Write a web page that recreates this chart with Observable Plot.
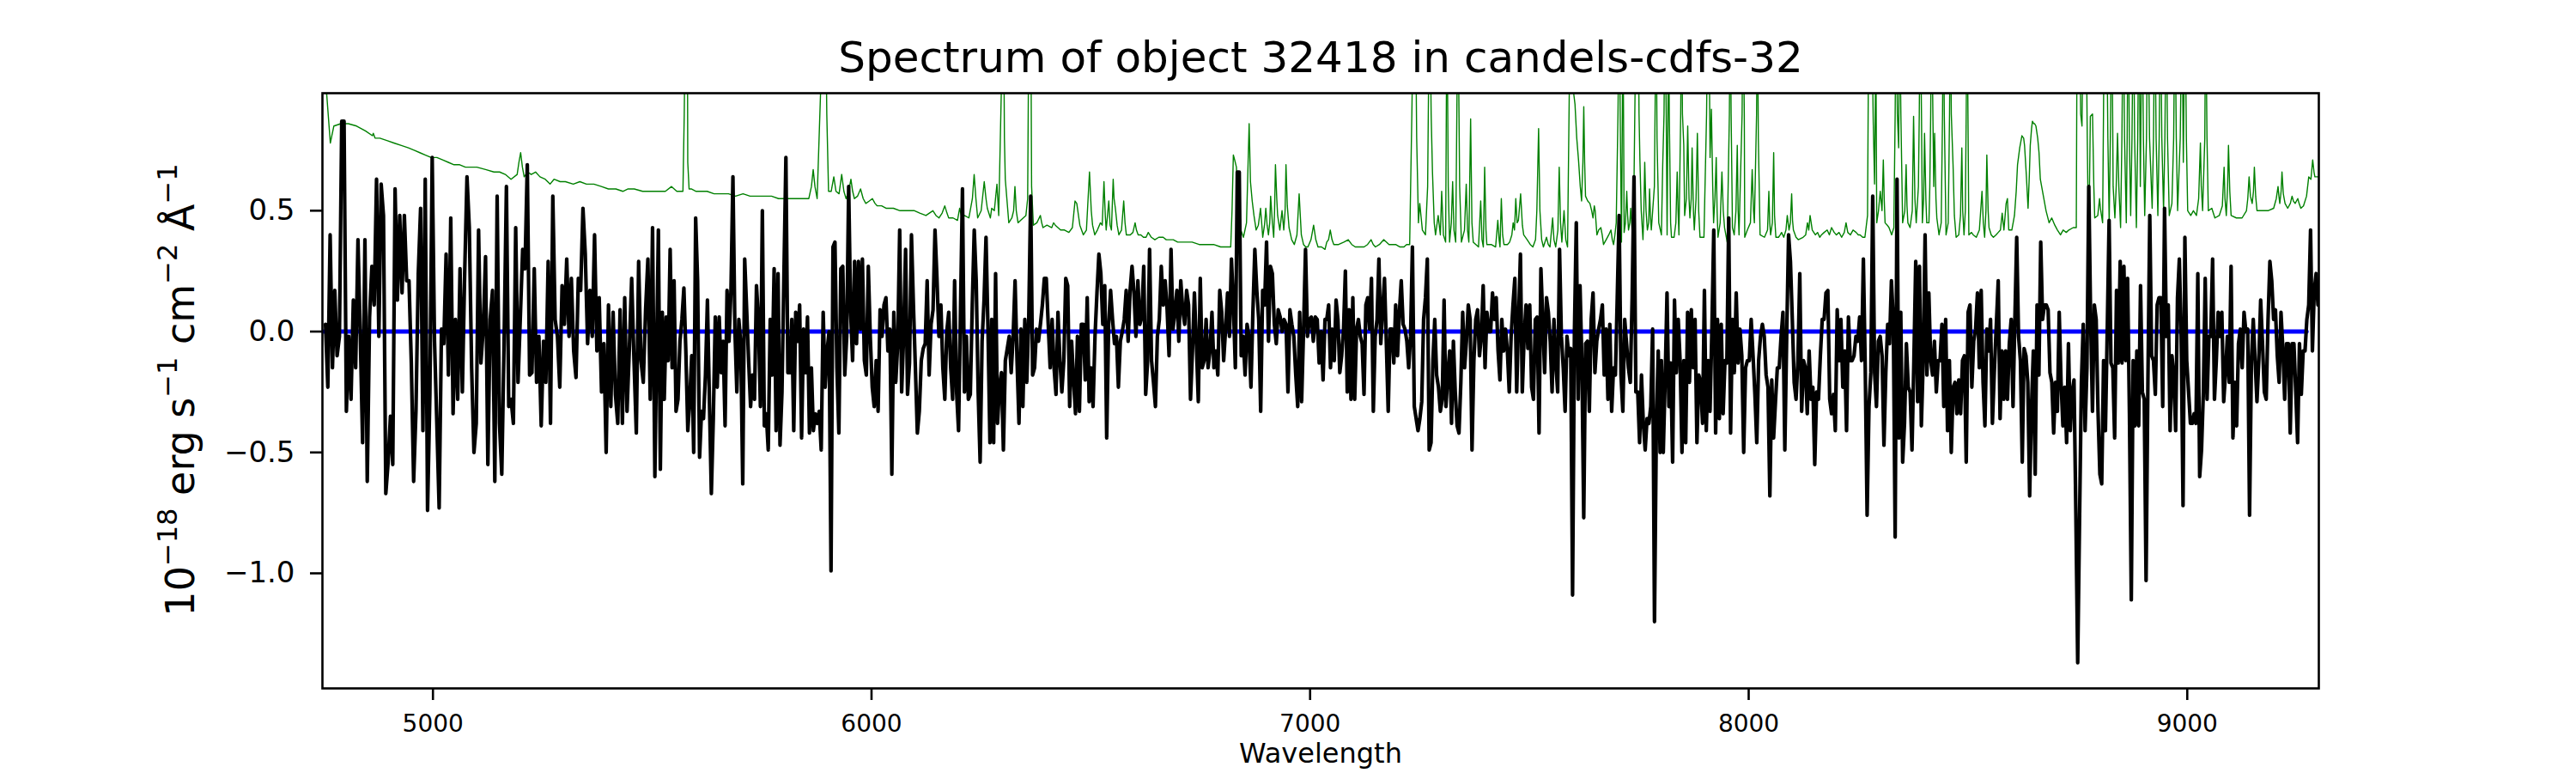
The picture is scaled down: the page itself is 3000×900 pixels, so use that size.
<!DOCTYPE html>
<html><head><meta charset="utf-8">
<script src="https://cdn.jsdelivr.net/npm/d3@7"></script>
<script src="https://cdn.jsdelivr.net/npm/@observablehq/plot@0.6"></script>
<style>html,body{margin:0;padding:0;background:#fff;}</style>
</head><body><div id="chart"></div>
<script>
const titleText = "Spectrum of object 32418 in candels-cdfs-32";
const xLabel = "Wavelength";
const xTicks = [5000, 6000, 7000, 8000, 9000];
const yTicks = [0.5, 0.0, -0.5, -1.0];

// observed flux, six consecutive wavelength segments (Å), values in 1e-18 erg/s/cm2/Å
const segStart = [4755, 5514, 6274, 7038, 7801, 8569];
const segEnd   = [5506, 6270, 7034, 7798, 8560, 9298];
const flux1 = [0.03,-0.23,0.40,-0.15,0.17,-0.10,-0.02,0.87,0.87,-0.33,-0.02,-0.28,0.13,-0.15,0.38,-0.02,-0.46,0.38,-0.62,0.06,0.27,0.11,0.63,-0.02,0.61,0.48,-0.67,-0.54,-0.35,-0.55,0.59,0.13,0.48,0.16,0.48,0.21,0.21,-0.13,-0.62,-0.33,0.24,0.51,-0.41,0.63,-0.74,-0.26,0.72,-0.04,-0.38,-0.73,0.01,-0.05,0.32,-0.18,0.47,-0.34,0.05,-0.28,0.26,-0.25,0.24,0.64,0.43,-0.15,-0.50,-0.38,0.42,-0.13,0.01,0.31,-0.55,0.05,0.17,-0.62,0.56,-0.38,-0.59,-0.04,0.60,-0.31,-0.28,-0.38,0.43,-0.21,0.06,0.34,0.26,0.69,-0.18,-0.17,0.26,-0.21,-0.02,-0.39,-0.04,-0.21,0.29,-0.38,0.56,0.05,-0.02,-0.23,0.19,0.03,0.30,-0.02,0.22,-0.08,-0.19,0.22,0.17,0.51,0.32,-0.05,0.17,-0.02,0.40,-0.08,0.14,-0.25,-0.05,-0.50,0.11,-0.31,0.08,-0.26,-0.38,0.09,-0.38,0.14,-0.33,-0.07,0.22,-0.12,-0.42,0.29,-0.12,-0.21,0.09,0.30,-0.28,0.43,-0.60];
const flux2 = [0.42,-0.57,0.08,-0.28,0.06,-0.12,0.34,-0.15,0.21,-0.33,-0.28,-0.04,0.05,0.18,-0.08,-0.41,-0.28,-0.10,-0.50,0.47,0.21,-0.52,-0.33,-0.36,-0.18,0.13,-0.28,-0.67,-0.36,0.06,-0.23,0.06,-0.17,-0.04,-0.39,0.17,-0.04,0.17,0.64,0.01,-0.25,0.05,-0.05,-0.63,0.30,0.09,-0.12,-0.31,-0.18,-0.28,0.19,0.05,-0.31,0.50,-0.39,-0.34,-0.49,0.05,-0.18,0.26,-0.41,0.24,-0.47,-0.25,0.24,0.72,-0.17,-0.17,0.05,-0.41,0.08,-0.04,0.11,-0.44,0.01,-0.17,0.06,-0.42,-0.15,-0.41,-0.34,-0.38,-0.33,-0.49,0.08,-0.23,-0.08,0.00,-0.99,0.35,0.37,-0.15,-0.42,0.26,0.27,-0.18,-0.02,0.60,0.08,-0.12,0.29,-0.05,0.29,0.01,0.30,-0.12,-0.18,0.27,-0.02,-0.23,-0.31,-0.12,-0.33,0.09,-0.02,0.11,0.14,-0.08,0.01,-0.59,0.08,-0.21,-0.05,0.42,-0.25,-0.02,0.34,-0.26,-0.13,0.40,0.11,-0.15,-0.42,-0.33,-0.12,-0.07,-0.05,0.21,-0.18,0.03,0.09,0.42,0.22,-0.02,0.11,-0.15,-0.28,0.00,0.08,-0.15,-0.28,0.21,-0.25,-0.41,0.09,0.59,-0.25,-0.02,-0.28,-0.26,0.11,0.42,0.21,-0.25,-0.54,-0.04,0.13,0.39,0.01,-0.46];
const flux3 = [0.05,-0.46,0.24,-0.38,-0.23,-0.17,-0.49,-0.12,-0.07,-0.02,-0.17,-0.02,0.21,-0.12,-0.38,0.01,-0.31,0.05,-0.21,0.05,0.56,-0.18,-0.15,0.01,-0.04,0.03,0.11,0.22,0.22,0.03,-0.15,0.05,-0.15,-0.26,0.08,-0.12,-0.25,-0.12,0.22,0.19,-0.31,-0.04,-0.20,-0.34,-0.02,-0.33,0.03,0.03,-0.20,0.14,-0.29,-0.15,-0.31,-0.02,0.16,0.32,0.24,0.03,0.19,-0.44,0.03,0.17,0.05,-0.05,-0.02,-0.23,-0.04,0.00,0.05,0.17,-0.04,0.17,0.27,0.16,-0.02,0.21,0.03,0.06,0.27,-0.26,-0.12,0.34,-0.12,-0.21,-0.31,-0.02,0.05,0.27,0.11,0.21,0.09,-0.10,0.34,0.01,0.08,0.17,-0.04,0.21,0.09,0.03,0.17,0.11,-0.28,-0.08,0.16,-0.05,-0.29,0.22,-0.15,-0.12,0.05,-0.15,-0.08,0.08,-0.15,-0.08,-0.18,0.17,0.08,-0.12,0.01,0.16,-0.02,0.30,0.11,-0.15,0.66,0.66,-0.10,-0.02,-0.18,0.03,-0.02,-0.23,0.08,0.34,0.17,0.05,-0.33,0.17,0.11,0.37,-0.04,0.27,0.24,0.03,-0.05,0.09,0.06,0.00,0.05,0.03,-0.25,0.09,0.03,-0.02,-0.18,-0.31,0.08,-0.29,0.01,0.34,-0.02,0.05,0.06,-0.04,0.06,0.05,-0.13,0.00,-0.20,0.05];
const flux4 = [0.05,0.11,-0.15,0.01,-0.12,0.13,0.05,-0.17,-0.10,0.01,0.25,-0.25,0.09,-0.28,0.14,-0.28,0.01,0.05,-0.02,-0.05,-0.26,0.11,0.14,0.01,0.22,-0.33,-0.02,0.05,0.30,-0.05,0.09,0.22,-0.05,-0.33,0.01,0.01,-0.13,0.11,-0.10,0.08,0.21,0.03,0.01,-0.04,-0.15,-0.02,0.35,-0.31,-0.36,-0.41,-0.36,-0.29,0.05,0.14,0.30,-0.49,-0.46,-0.12,0.05,-0.18,-0.23,-0.33,-0.28,0.13,-0.31,-0.18,-0.08,-0.38,-0.04,-0.25,-0.39,-0.42,-0.21,0.08,-0.15,-0.04,0.11,0.05,-0.49,-0.12,0.05,0.09,-0.10,-0.02,0.19,-0.15,0.08,0.00,0.00,0.16,0.05,0.14,-0.08,-0.20,0.05,-0.08,0.01,-0.08,-0.25,-0.02,0.11,0.22,-0.25,0.05,0.32,-0.25,-0.02,0.11,-0.07,0.11,-0.23,-0.28,0.05,0.06,-0.42,0.26,0.05,-0.17,0.14,0.08,-0.04,-0.25,0.05,-0.13,-0.25,0.34,-0.02,-0.15,-0.33,-0.02,-0.10,-0.07,-1.09,0.00,0.45,-0.28,0.19,-0.12,-0.77,-0.05,-0.04,-0.33,0.05,0.16,-0.17,-0.04,0.01,0.05,0.11,-0.18,0.01,-0.28,0.03,-0.33,-0.15,-0.18,0.14,0.48,-0.18,-0.33,0.05,-0.05,-0.15,-0.21,0.14,0.64,-0.25,-0.25,-0.46,-0.18,-0.38,-0.49,-0.36,-0.38,-0.31,0.01,-1.20,-0.39,-0.08,-0.50];
const flux5 = [-0.12,-0.50,-0.20,0.16,-0.31,-0.13,-0.54,0.13,-0.17,0.05,-0.12,-0.50,-0.12,-0.46,0.08,-0.21,0.09,-0.15,0.05,-0.46,-0.18,-0.21,-0.38,0.17,-0.41,-0.12,-0.33,0.01,0.42,-0.42,0.05,-0.36,0.03,-0.34,-0.12,-0.13,0.47,-0.42,0.05,-0.17,0.16,-0.13,0.01,-0.10,-0.50,-0.15,-0.12,-0.12,0.05,-0.10,-0.26,-0.46,-0.12,-0.02,0.03,-0.02,-0.18,-0.23,-0.68,-0.20,-0.44,-0.29,-0.15,-0.15,-0.02,0.08,-0.49,-0.02,0.40,0.29,0.05,-0.21,-0.28,-0.12,0.24,-0.33,-0.12,-0.15,-0.34,-0.08,-0.28,-0.23,-0.55,-0.25,-0.28,-0.10,0.05,0.05,0.16,0.17,-0.28,-0.34,-0.26,-0.41,0.09,-0.12,0.05,-0.23,-0.08,-0.41,0.06,-0.12,-0.12,-0.10,-0.02,-0.04,0.06,-0.12,0.30,-0.15,-0.76,-0.31,-0.17,0.56,-0.17,-0.31,-0.04,-0.02,-0.10,-0.47,-0.17,0.03,-0.05,0.21,0.05,-0.85,0.63,-0.44,0.08,-0.54,-0.38,-0.05,-0.23,-0.25,-0.49,-0.12,0.29,-0.29,0.27,-0.39,-0.12,0.40,-0.18,0.16,-0.12,-0.18,-0.04,-0.25,-0.12,-0.12,0.03,-0.31,0.05,-0.41,-0.12,-0.50,-0.23,-0.21,-0.34,-0.20,-0.34,-0.12,-0.10,-0.54,0.08,0.11,-0.23,-0.04,0.01,0.16,-0.15,0.17,-0.21,-0.39,0.01,-0.08,0.05,-0.38,-0.17];
const flux6 = [0.21,-0.36,-0.08,-0.28,-0.08,-0.28,-0.05,0.05,-0.31,0.05,0.39,-0.02,-0.12,-0.54,-0.07,-0.10,-0.21,-0.68,-0.31,-0.08,-0.59,0.11,-0.18,0.37,0.05,0.11,0.11,0.09,-0.17,-0.21,-0.42,-0.21,-0.33,0.08,-0.21,-0.39,-0.23,-0.46,-0.05,-0.41,-0.25,-0.20,-0.75,-1.37,-0.78,-0.21,0.03,-0.41,-0.15,0.60,0.05,-0.33,0.11,0.05,-0.33,-0.59,-0.63,-0.12,-0.41,0.01,0.46,-0.13,-0.15,-0.44,0.17,-0.13,0.29,-0.13,0.27,-0.12,0.22,-0.34,-1.11,-0.12,-0.39,-0.08,-0.39,0.19,-0.25,-0.28,-1.03,-0.20,0.48,-0.10,-0.12,-0.26,0.11,0.14,0.14,-0.31,0.51,-0.02,0.11,-0.41,-0.10,-0.18,-0.41,0.14,0.30,-0.02,-0.72,0.39,-0.12,-0.25,-0.38,-0.38,-0.34,-0.38,0.24,-0.60,-0.49,-0.25,0.22,-0.28,-0.02,-0.02,0.30,-0.28,-0.12,0.08,-0.02,0.08,-0.29,-0.17,-0.02,-0.21,0.27,-0.44,-0.21,-0.39,-0.05,0.01,-0.15,0.08,0.00,0.01,-0.76,-0.12,0.05,-0.12,-0.29,-0.12,0.13,-0.05,-0.25,-0.28,0.05,0.29,0.21,0.05,0.09,-0.10,-0.21,0.08,-0.07,-0.28,-0.05,-0.05,-0.42,-0.05,-0.05,-0.25,-0.46,-0.05,-0.26,-0.08,-0.08,0.05,0.11,0.42,-0.08,0.17,0.24,0.11];

// model (blue) — zero across the spectrum
const modelWave = [4751, 9272];
const modelFlux = [0, 0];

// noise / sky spectrum (green): [wavelength, value]
const errSpectrum = [
[4750,1.3],[4757,1.0],[4766,0.78],[4774,0.85],[4790,0.86],[4807,0.86],[4826,0.85],[4846,0.83],[4862,0.81],[4864,0.82],[4868,0.80],[4879,0.80],[4895,0.79],[4911,0.78],[4928,0.77],[4944,0.76],[4957,0.75],[4970,0.74],[4983,0.73],[4996,0.72],[5009,0.72],[5022,0.71],[5035,0.70],[5048,0.69],[5061,0.69],[5074,0.68],[5087,0.68],[5100,0.68],[5120,0.67],[5139,0.66],[5152,0.66],[5165,0.65],[5178,0.63],[5192,0.65],[5196,0.70],[5200,0.74],[5204,0.68],[5208,0.64],[5216,0.66],[5224,0.65],[5234,0.66],[5244,0.64],[5256,0.63],[5267,0.61],[5276,0.63],[5290,0.62],[5302,0.62],[5320,0.61],[5335,0.62],[5350,0.61],[5367,0.61],[5384,0.60],[5400,0.59],[5417,0.59],[5433,0.58],[5445,0.59],[5459,0.59],[5478,0.58],[5498,0.58],
[5511,0.58],[5530,0.58],[5544,0.60],[5556,0.58],[5570,0.58],[5573,0.9],[5576,1.4],[5580,1.4],[5581,0.7],[5584,0.59],[5589,0.59],[5600,0.58],[5609,0.58],[5625,0.58],[5641,0.57],[5658,0.57],[5674,0.57],[5690,0.56],[5707,0.57],[5723,0.56],[5739,0.56],[5756,0.56],[5772,0.56],[5788,0.55],[5805,0.55],[5820,0.55],[5837,0.55],[5857,0.55],[5863,0.60],[5867,0.67],[5871,0.60],[5876,0.55],[5884,1.0],[5887,1.4],[5895,1.4],[5898,0.9],[5902,0.58],[5908,0.58],[5914,0.64],[5919,0.58],[5926,0.57],[5932,0.65],[5937,0.58],[5942,0.55],[5948,0.58],[5953,0.63],[5957,0.58],[5961,0.55],[5968,0.56],[5975,0.59],[5981,0.55],[5987,0.53],[5995,0.54],[6002,0.55],[6008,0.53],[6013,0.52],[6023,0.52],[6033,0.51],[6050,0.51],[6065,0.50],[6080,0.50],[6098,0.50],[6110,0.49],[6124,0.48],[6132,0.49],[6140,0.50],[6147,0.48],[6154,0.47],[6161,0.49],[6167,0.52],[6172,0.49],[6176,0.47],[6186,0.47],[6196,0.46],[6201,0.51],[6206,0.47],[6212,0.48],[6222,0.47],[6230,0.55],[6234,0.65],[6238,0.55],[6242,0.47],[6250,0.50],[6257,0.62],[6261,0.55],[6264,0.51],[6271,0.47],
[6274,0.51],[6280,0.50],[6286,0.61],[6290,0.48],[6296,1.0],[6297,1.4],[6301,1.4],[6303,0.8],[6305,0.63],[6313,0.45],[6320,0.47],[6324,0.50],[6327,0.60],[6330,0.50],[6334,0.45],[6340,0.46],[6346,0.47],[6352,0.48],[6356,0.55],[6359,1.4],[6363,1.4],[6365,0.6],[6369,0.44],[6377,0.45],[6385,0.48],[6388,0.45],[6391,0.43],[6400,0.44],[6411,0.43],[6415,0.45],[6419,0.44],[6425,0.43],[6431,0.42],[6440,0.42],[6450,0.41],[6458,0.43],[6464,0.54],[6468,0.53],[6475,0.44],[6483,0.40],[6490,0.42],[6497,0.66],[6501,0.50],[6504,0.44],[6509,0.40],[6515,0.42],[6522,0.45],[6526,0.44],[6530,0.62],[6533,0.48],[6535,0.42],[6541,0.54],[6544,0.44],[6547,0.42],[6551,0.63],[6553,0.55],[6556,0.51],[6560,0.44],[6564,0.40],[6570,0.42],[6575,0.54],[6578,0.45],[6581,0.40],[6586,0.40],[6590,0.40],[6596,0.41],[6601,0.45],[6604,0.42],[6608,0.40],[6614,0.40],[6620,0.39],[6626,0.39],[6631,0.41],[6638,0.39],[6646,0.38],[6655,0.39],[6665,0.39],[6672,0.38],[6678,0.38],[6688,0.38],[6698,0.37],[6715,0.37],[6731,0.37],[6747,0.36],[6763,0.36],[6780,0.36],[6796,0.35],[6810,0.35],[6819,0.35],[6822,0.50],[6825,0.73],[6828,0.71],[6832,0.68],[6836,0.48],[6842,0.42],[6848,0.39],[6855,0.45],[6861,0.86],[6864,0.62],[6868,0.54],[6872,0.48],[6877,0.42],[6882,0.44],[6887,0.51],[6890,0.44],[6892,0.39],[6896,0.44],[6899,0.51],[6902,0.44],[6905,0.40],[6908,0.45],[6910,0.56],[6914,0.45],[6917,0.39],[6919,0.50],[6921,0.69],[6924,0.55],[6926,0.48],[6931,0.42],[6936,0.50],[6940,0.42],[6943,0.50],[6945,0.69],[6948,0.52],[6952,0.43],[6958,0.38],[6964,0.36],[6970,0.40],[6975,0.57],[6980,0.40],[6985,0.36],[6990,0.35],[6995,0.35],[7002,0.38],[7008,0.44],[7013,0.38],[7018,0.35],[7026,0.35],[7034,0.34],
[7038,0.37],[7042,0.38],[7046,0.42],[7050,0.38],[7054,0.36],[7065,0.36],[7077,0.37],[7087,0.38],[7095,0.36],[7103,0.35],[7113,0.35],[7123,0.35],[7131,0.36],[7139,0.38],[7144,0.36],[7149,0.35],[7158,0.36],[7168,0.38],[7180,0.36],[7195,0.36],[7205,0.35],[7214,0.35],[7220,0.36],[7227,0.36],[7232,0.9],[7236,1.4],[7240,1.4],[7243,0.8],[7247,0.45],[7250,0.53],[7256,0.42],[7263,0.40],[7268,0.6],[7270,1.0],[7273,1.4],[7276,0.9],[7279,0.66],[7283,0.45],[7286,0.40],[7292,0.48],[7297,0.40],[7300,0.58],[7304,0.40],[7309,0.37],[7312,1.4],[7315,0.6],[7318,0.37],[7322,0.45],[7325,0.62],[7328,0.42],[7332,0.37],[7337,1.4],[7341,0.6],[7345,0.37],[7352,0.42],[7356,0.61],[7359,0.42],[7362,0.37],[7366,0.88],[7369,0.45],[7372,0.37],[7378,0.36],[7384,0.35],[7389,0.54],[7392,0.38],[7395,0.35],[7398,0.68],[7401,0.42],[7403,0.36],[7413,0.36],[7423,0.35],[7428,0.46],[7431,0.38],[7433,0.35],[7436,0.55],[7439,0.40],[7442,0.36],[7450,0.36],[7455,0.37],[7460,0.40],[7463,0.45],[7466,0.42],[7469,0.55],[7472,0.45],[7475,0.46],[7480,0.57],[7484,0.44],[7487,0.40],[7495,0.38],[7502,0.36],[7508,0.35],[7514,0.38],[7517,0.50],[7521,0.84],[7524,0.50],[7528,0.38],[7532,0.35],[7539,0.39],[7543,0.36],[7547,0.35],[7553,0.47],[7556,0.38],[7560,0.35],[7565,0.42],[7568,0.68],[7571,0.45],[7574,0.37],[7579,0.50],[7583,0.38],[7587,0.35],[7591,1.0],[7594,1.4],[7598,1.4],[7600,1.0],[7604,0.94],[7608,0.80],[7612,0.71],[7616,0.60],[7619,0.54],[7622,0.70],[7624,0.93],[7626,0.70],[7628,0.56],[7633,0.54],[7638,0.53],[7642,0.50],[7645,0.47],[7648,0.52],[7650,0.50],[7654,0.40],[7658,0.42],[7663,0.43],[7666,0.40],[7669,0.36],[7675,0.38],[7681,0.40],[7686,0.42],[7689,0.38],[7692,0.36],[7695,0.40],[7698,0.45],[7702,0.9],[7705,1.4],[7707,0.9],[7710,0.37],[7712,0.9],[7713,1.4],[7715,0.8],[7716,0.41],[7719,0.45],[7722,0.58],[7724,0.48],[7726,0.42],[7729,0.45],[7731,0.51],[7734,0.42],[7737,0.38],[7741,1.0],[7744,1.4],[7748,1.4],[7750,0.9],[7752,0.71],[7755,0.50],[7759,0.38],[7761,0.50],[7763,0.70],[7766,0.50],[7769,0.42],[7772,0.45],[7774,0.59],[7776,0.48],[7778,0.42],[7785,0.6],[7787,1.0],[7789,1.4],[7791,0.8],[7795,0.45],
[7801,0.40],[7804,0.69],[7807,0.9],[7809,1.4],[7812,0.9],[7814,0.40],[7816,0.9],[7817,1.4],[7819,0.9],[7822,0.45],[7824,0.39],[7830,0.39],[7834,0.45],[7837,0.66],[7839,0.50],[7841,0.40],[7845,0.9],[7847,1.4],[7849,0.9],[7852,0.77],[7854,0.48],[7858,0.55],[7861,0.85],[7864,0.55],[7866,0.47],[7869,0.55],[7871,0.76],[7874,0.50],[7876,0.42],[7880,0.55],[7883,0.82],[7886,0.50],[7889,0.39],[7898,0.39],[7904,0.9],[7907,1.4],[7909,1.4],[7912,0.72],[7915,0.92],[7918,0.60],[7920,0.45],[7923,0.55],[7926,0.72],[7928,0.50],[7930,0.39],[7935,0.45],[7939,0.66],[7942,0.50],[7945,0.43],[7951,0.37],[7956,0.9],[7958,1.4],[7960,0.9],[7963,0.43],[7967,0.40],[7971,0.50],[7974,0.77],[7976,0.50],[7978,0.40],[7985,0.9],[7987,1.4],[7990,0.9],[7991,0.39],[7997,0.42],[8004,0.45],[8008,0.67],[8011,0.50],[8013,0.45],[8018,0.9],[8020,1.4],[8022,0.8],[8026,0.40],[8036,0.39],[8043,0.42],[8046,0.58],[8048,0.45],[8050,0.40],[8054,0.45],[8057,0.74],[8059,0.48],[8062,0.39],[8068,0.39],[8072,0.40],[8075,0.41],[8080,0.39],[8085,0.42],[8088,0.48],[8092,0.42],[8095,0.45],[8098,0.57],[8100,0.46],[8102,0.42],[8108,0.39],[8113,0.38],[8124,0.39],[8130,0.40],[8134,0.45],[8137,0.42],[8140,0.48],[8145,0.42],[8152,0.40],[8157,0.41],[8162,0.39],[8166,0.40],[8172,0.41],[8179,0.42],[8184,0.40],[8189,0.43],[8195,0.41],[8200,0.40],[8206,0.41],[8212,0.39],[8218,0.41],[8222,0.45],[8226,0.41],[8232,0.40],[8238,0.42],[8245,0.41],[8250,0.40],[8254,0.40],[8260,0.39],[8265,0.39],[8271,0.48],[8274,1.4],[8280,1.4],[8284,0.87],[8287,0.61],[8290,1.2],[8292,0.45],[8296,0.50],[8300,0.58],[8304,0.50],[8307,0.71],[8309,0.55],[8311,0.45],[8316,0.44],[8320,0.43],[8326,0.40],[8331,0.43],[8334,0.9],[8336,1.4],[8339,0.9],[8342,0.76],[8344,1.4],[8347,0.9],[8351,0.45],[8356,0.50],[8359,0.69],[8361,0.52],[8363,0.45],[8368,0.43],[8373,0.50],[8376,0.89],[8379,0.55],[8382,0.45],[8387,0.6],[8389,0.9],[8391,1.4],[8394,0.9],[8396,0.45],[8399,0.55],[8401,0.82],[8404,0.55],[8406,0.45],[8411,0.45],[8413,0.6],[8415,0.9],[8417,1.4],[8420,0.9],[8422,0.6],[8424,0.82],[8427,0.55],[8429,0.47],[8434,0.40],[8439,0.45],[8442,0.9],[8444,1.4],[8446,0.9],[8450,0.40],[8455,0.45],[8458,0.9],[8460,1.4],[8462,0.9],[8466,0.69],[8469,0.48],[8473,0.39],[8479,0.40],[8483,0.48],[8486,0.76],[8488,0.50],[8491,0.40],[8494,0.5],[8496,0.9],[8498,1.4],[8500,0.9],[8502,0.40],[8508,0.41],[8512,0.40],[8519,0.39],[8526,0.42],[8532,0.58],[8535,0.45],[8538,0.39],[8541,0.50],[8543,0.73],[8546,0.50],[8548,0.43],[8553,0.40],[8558,0.39],
[8564,0.40],[8569,0.41],[8574,0.42],[8578,0.49],[8582,0.42],[8587,0.53],[8590,0.55],[8593,0.42],[8600,0.42],[8606,0.48],[8610,0.58],[8613,0.69],[8618,0.76],[8623,0.81],[8627,0.80],[8629,0.77],[8633,0.65],[8637,0.51],[8640,0.65],[8642,0.77],[8645,0.84],[8647,0.87],[8650,0.86],[8652,0.86],[8655,0.85],[8659,0.80],[8662,0.74],[8665,0.63],[8668,0.60],[8672,0.56],[8678,0.50],[8685,0.45],[8691,0.47],[8698,0.44],[8704,0.42],[8711,0.40],[8717,0.42],[8724,0.41],[8730,0.42],[8740,0.43],[8747,0.43],[8749,1.4],[8754,1.4],[8757,0.9],[8760,0.85],[8763,1.4],[8769,1.4],[8772,0.8],[8774,0.50],[8776,0.43],[8779,0.89],[8784,0.90],[8787,0.6],[8789,0.47],[8796,0.48],[8800,0.55],[8802,0.51],[8807,0.45],[8809,0.9],[8811,1.4],[8816,1.4],[8819,0.8],[8822,0.45],[8825,0.85],[8828,1.4],[8831,0.6],[8835,0.47],[8838,0.6],[8841,0.82],[8844,0.6],[8848,0.43],[8851,0.8],[8854,1.4],[8857,0.8],[8861,0.45],[8863,0.8],[8865,1.4],[8868,0.8],[8871,0.48],[8874,0.8],[8877,1.4],[8880,0.8],[8884,0.43],[8887,0.8],[8890,1.4],[8893,0.6],[8897,1.4],[8900,0.8],[8903,0.48],[8907,0.8],[8910,1.4],[8914,0.8],[8920,0.51],[8923,0.8],[8926,1.4],[8929,0.8],[8933,0.48],[8936,0.8],[8939,1.4],[8942,0.8],[8946,0.50],[8949,0.8],[8952,1.4],[8955,0.8],[8959,0.48],[8965,0.53],[8969,0.8],[8972,1.4],[8975,0.8],[8978,0.50],[8984,0.8],[8988,1.4],[8991,0.7],[8995,1.4],[8998,0.8],[9001,0.50],[9008,0.48],[9014,0.50],[9021,0.48],[9026,0.55],[9030,0.78],[9032,0.60],[9035,0.50],[9040,0.8],[9042,1.4],[9045,0.8],[9048,0.50],[9056,0.51],[9063,0.47],[9073,0.48],[9080,0.52],[9084,0.68],[9086,0.55],[9089,0.48],[9092,0.6],[9094,0.77],[9097,0.58],[9100,0.48],[9112,0.47],[9125,0.47],[9135,0.50],[9138,0.55],[9141,0.64],[9144,0.56],[9148,0.53],[9151,0.58],[9153,0.68],[9156,0.56],[9159,0.50],[9171,0.50],[9184,0.50],[9197,0.51],[9203,0.55],[9207,0.60],[9209,0.56],[9211,0.53],[9214,0.58],[9216,0.66],[9219,0.57],[9223,0.53],[9229,0.51],[9235,0.53],[9239,0.56],[9242,0.54],[9246,0.53],[9252,0.55],[9255,0.53],[9259,0.51],[9265,0.52],[9272,0.56],[9277,0.64],[9282,0.63],[9286,0.71],[9289,0.66],[9291,0.64],[9298,0.64]
];

const fluxSegments = [flux1, flux2, flux3, flux4, flux5, flux6];
const fluxData = fluxSegments.flatMap((vals, s) =>
  vals.map((v, i) => ({wave: segStart[s] + i * (segEnd[s] - segStart[s]) / (vals.length - 1), flux: v})));
const modelData = modelWave.map((w, i) => ({wave: w, flux: modelFlux[i]}));
const errData = errSpectrum.map(([w, v]) => ({wave: w, flux: v}));

const font = "DejaVu Sans";
const chart = Plot.plot({
  width: 3000, height: 900,
  marginLeft: 375, marginRight: 300, marginTop: 108, marginBottom: 99,
  style: {fontFamily: font, background: "white", color: "black"},
  x: {domain: [4748, 9300]},
  y: {domain: [-1.476, 0.986]},
  marks: [
    Plot.line(errData, {x: "wave", y: "flux", stroke: "#008000", strokeWidth: 1.4, clip: true}),
    Plot.line(modelData, {x: "wave", y: "flux", stroke: "#0000ff", strokeWidth: 5}),
    Plot.line(fluxData, {x: "wave", y: "flux", stroke: "#000000", strokeWidth: 4.2, strokeLinejoin: "round", clip: true}),
    Plot.frame({stroke: "black", strokeWidth: 2.6}),
    Plot.axisX({ticks: xTicks, tickFormat: "d", tickSize: 14, tickPadding: 17, fontSize: 28, strokeWidth: 2.6, label: null}),
    Plot.axisY({ticks: yTicks, tickFormat: ".1f", tickSize: 14, tickPadding: 18, fontSize: 34, strokeWidth: 2.6, label: null}),
    Plot.text([titleText], {text: d => d, frameAnchor: "top", lineAnchor: "bottom", dy: -25, fontSize: 50, fill: "black"}),
    Plot.text([xLabel], {text: d => d, frameAnchor: "bottom", lineAnchor: "bottom", dy: 86, fontSize: 32, fill: "black"})
  ]
});
document.getElementById("chart").appendChild(chart);

// y-axis label with superscripts
const svg = d3.select(chart);
const yl = svg.append("text")
  .attr("transform", "translate(226,454) rotate(-90)")
  .attr("text-anchor", "middle")
  .attr("font-family", font)
  .attr("font-size", 46)
  .attr("fill", "black");
const parts = [["10", false], ["\u221218", true], [" erg s", false], ["\u22121", true], [" cm", false], ["\u22122", true], [" \u00C5", false], ["\u22121", true]];
let raised = false;
parts.forEach(([t, sup]) => {
  const ts = yl.append("tspan").text(t);
  if (sup && !raised) { ts.attr("dy", -20).attr("font-size", 32); raised = true; }
  else if (sup) { ts.attr("font-size", 32); }
  else if (!sup && raised) { ts.attr("dy", 20); raised = false; }
});
</script>
</body></html>
